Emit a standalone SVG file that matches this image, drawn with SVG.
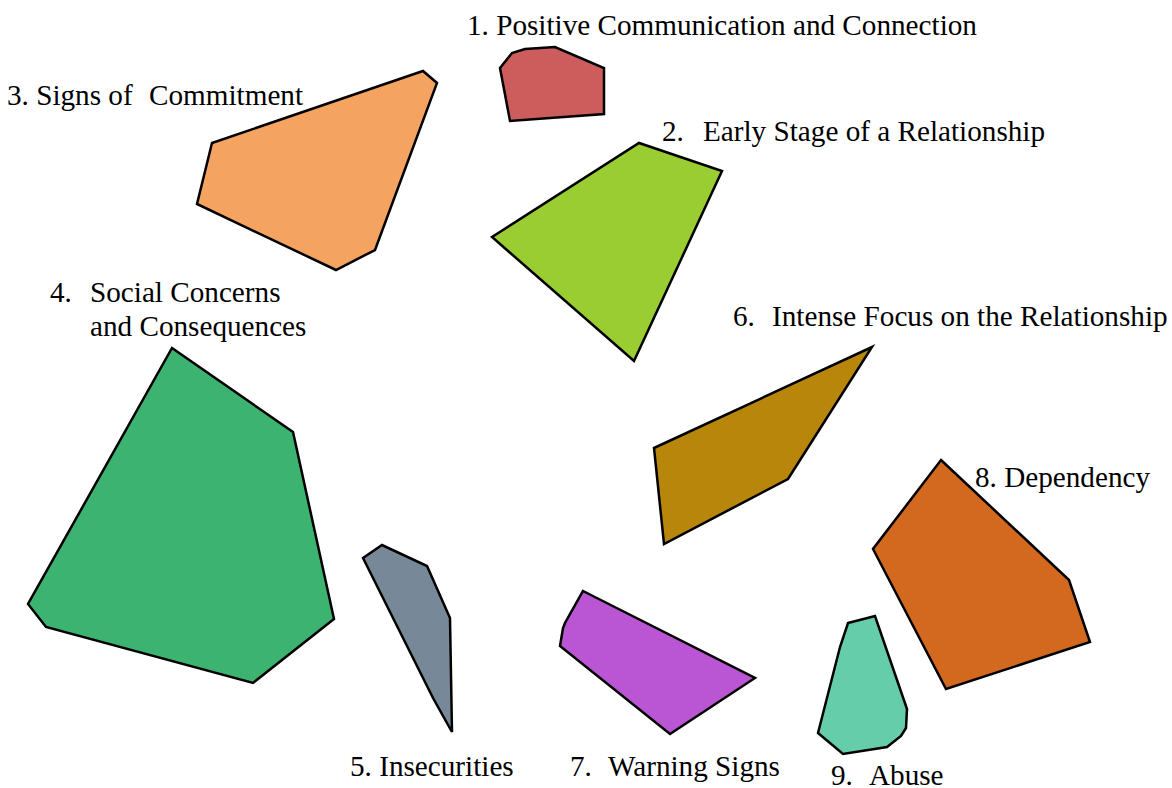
<svg xmlns="http://www.w3.org/2000/svg" width="1172" height="788" viewBox="0 0 1172 788">
<style>
.s{stroke:#000;stroke-width:2.5;stroke-linejoin:miter}
text{font-family:"Liberation Serif","Times New Roman",serif;font-size:29.2px;fill:#000}
</style>
<rect width="1172" height="788" fill="#fff"/>
<g id="n1"><polygon class="s" fill="#CD5C5C" points="500,68 512,53 525,49 555,47 604,68 604,114 510,121"/><text x="467" y="35">1. Positive Communication and Connection</text></g>
<g id="n2"><polygon class="s" fill="#9ACD32" points="492,237 639,143 722,171 634,361"/><text y="141"><tspan x="662">2.</tspan><tspan x="703">Early Stage of a Relationship</tspan></text></g>
<g id="n3"><polygon class="s" fill="#F4A460" points="212,143 423,71 437,83 375,250 336,270 197,204"/><text y="105"><tspan x="7">3. Signs of</tspan><tspan x="149">Commitment</tspan></text></g>
<g id="n4"><polygon class="s" fill="#3CB371" points="172,348 293,432 334,619 253,683 46,627 28,604"/><text y="302"><tspan x="50">4.</tspan><tspan x="90">Social Concerns</tspan></text><text x="90" y="336">and Consequences</text></g>
<g id="n5"><polygon class="s" fill="#778899" points="363,558 382,545 427,566 450,618 452,732 433,698"/><text x="350" y="776">5. Insecurities</text></g>
<g id="n6"><polygon class="s" fill="#B8860B" points="654,448 872,347 788,479 664,544"/><text y="326"><tspan x="733">6.</tspan><tspan x="772">Intense Focus on the Relationship</tspan></text></g>
<g id="n7"><polygon class="s" fill="#BA55D3" points="583,591 755,678 670,734 560,646 563,628 565,623"/><text y="776"><tspan x="570">7.</tspan><tspan x="608">Warning Signs</tspan></text></g>
<g id="n8"><polygon class="s" fill="#D2691E" points="941,460 1069,580 1090,642 946,689 873,549"/><text x="975" y="487">8. Dependency</text></g>
<g id="n9"><polygon class="s" fill="#66CDAA" points="848,623 875,616 907,709 906,728 901,736 887,747 843,754 818,733 840,647"/><text y="785"><tspan x="831">9.</tspan><tspan x="869">Abuse</tspan></text></g>
<g id="connectors"></g>
</svg>
